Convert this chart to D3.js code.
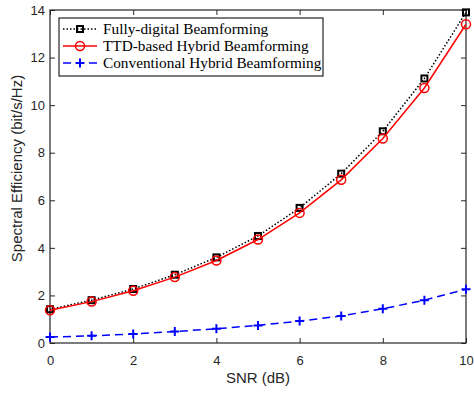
<!DOCTYPE html>
<html>
<head>
<meta charset="utf-8">
<script src="https://cdn.jsdelivr.net/npm/d3@7"></script>
<style>
  body { margin: 0; background: #fff; }
  .tick text { font-family: "Liberation Sans", Arial, sans-serif; font-size: 13px; fill: #262626; }
  .label { font-family: "Liberation Sans", Arial, sans-serif; font-size: 15px; fill: #262626; }
  .legend-text { font-family: "Liberation Serif", "Times New Roman", serif; font-size: 15.3px; fill: #000; }
</style>
</head>
<body>
<div class="chart"></div>
<script>
const snr = [0, 1, 2, 3, 4, 5, 6, 7, 8, 9, 10]
const fullyDigital = [1.42, 1.8, 2.27, 2.87, 3.6, 4.5, 5.68, 7.12, 8.9, 11.12, 13.9]
const ttdHybrid = [1.38, 1.74, 2.2, 2.77, 3.47, 4.35, 5.47, 6.86, 8.6, 10.72, 13.4]
const convHybrid = [0.25, 0.3, 0.38, 0.48, 0.6, 0.74, 0.92, 1.14, 1.44, 1.8, 2.26]
const seriesNames = ["Fully-digital Beamforming", "TTD-based Hybrid Beamforming", "Conventional Hybrid Beamforming"]
const xTicks = [0, 2, 4, 6, 8, 10]
const yTicks = [0, 2, 4, 6, 8, 10, 12, 14]

function drawChart() {
    const w = 474, h = 393;
    const padding = { left: 50, right: 8, top: 10, bottom: 50 };
    const chartWidth = w - padding.left - padding.right;
    const chartHeight = h - padding.top - padding.bottom;

    var svg = d3.select('.chart')
        .append("svg")
        .attr("width", w)
        .attr("height", h)
        .append("g")
        .attr("transform", "translate(" + padding.left + "," + padding.top + ")");

    var xScale = d3.scaleLinear().domain([0, 10]).range([0, chartWidth]);
    var yScale = d3.scaleLinear().domain([0, 14]).range([chartHeight, 0]);

    const axisColor = "#262626";
    function styleAxis(g) {
        g.select(".domain").remove();
        g.selectAll(".tick line").attr("stroke", axisColor);
    }

    // bottom / left with labels, top / right ticks only
    svg.append("g")
        .attr("transform", `translate(0, ${chartHeight})`)
        .call(d3.axisBottom(xScale).tickValues(xTicks).tickSizeInner(-5).tickSizeOuter(0).tickPadding(13))
        .call(styleAxis);
    svg.append("g")
        .call(d3.axisTop(xScale).tickValues(xTicks).tickSizeInner(-5).tickSizeOuter(0).tickFormat(""))
        .call(styleAxis);
    svg.append("g")
        .call(d3.axisLeft(yScale).tickValues(yTicks).tickSizeInner(-5).tickSizeOuter(0).tickPadding(5))
        .call(styleAxis);
    svg.append("g")
        .attr("transform", `translate(${chartWidth}, 0)`)
        .call(d3.axisRight(yScale).tickValues(yTicks).tickSizeInner(-5).tickSizeOuter(0).tickFormat(""))
        .call(styleAxis);

    svg.append("rect")
        .attr("width", chartWidth)
        .attr("height", chartHeight)
        .attr("fill", "none")
        .attr("stroke", axisColor)
        .attr("stroke-width", 1.2);

    const series = [
        { name: seriesNames[0], values: fullyDigital, color: "#000", dash: "1.5,2", marker: "square" },
        { name: seriesNames[1], values: ttdHybrid, color: "#ff0000", dash: null, marker: "circle" },
        { name: seriesNames[2], values: convHybrid, color: "#0000ff", dash: "8,5", marker: "plus" }
    ];

    const line = d3.line()
        .x(d => xScale(d[0]))
        .y(d => yScale(d[1]));

    function drawMarker(g, type, color) {
        if (type === "square") {
            g.append("rect").attr("x", -3).attr("y", -3).attr("width", 6).attr("height", 6)
                .attr("fill", "none").attr("stroke", color).attr("stroke-width", 2);
        } else if (type === "circle") {
            g.append("circle").attr("r", 4.5)
                .attr("fill", "none").attr("stroke", color).attr("stroke-width", 1.5);
        } else {
            g.append("path").attr("d", "M-4.5,0H4.5M0,-4.5V4.5")
                .attr("stroke", color).attr("stroke-width", 2);
        }
    }

    series.forEach(s => {
        const pts = snr.map((x, i) => [x, s.values[i]]);
        svg.append("path")
            .datum(pts)
            .attr("d", line)
            .attr("fill", "none")
            .attr("stroke", s.color)
            .attr("stroke-width", 1.5)
            .attr("stroke-dasharray", s.dash);
        pts.forEach(p => {
            const g = svg.append("g").attr("transform", `translate(${xScale(p[0])},${yScale(p[1])})`);
            drawMarker(g, s.marker, s.color);
        });
    });

    // legend
    var legend = svg.append("g").attr("transform", "translate(9, 8)");
    legend.append("rect")
        .attr("width", 264)
        .attr("height", 58)
        .attr("fill", "#fff")
        .attr("stroke", axisColor)
        .attr("stroke-width", 1.2);

    series.forEach((s, i) => {
        const y = 11 + i * 17;
        legend.append("line")
            .attr("x1", 4).attr("x2", 38).attr("y1", y).attr("y2", y)
            .attr("stroke", s.color).attr("stroke-width", 1.5)
            .attr("stroke-dasharray", s.dash);
        const g = legend.append("g").attr("transform", `translate(21,${y})`);
        drawMarker(g, s.marker, s.color);
        legend.append("text")
            .attr("class", "legend-text")
            .attr("x", 44)
            .attr("y", y + 5)
            .text(s.name);
    });

    svg.append("text")
        .attr("class", "label")
        .attr("x", chartWidth / 2)
        .attr("y", chartHeight + 40)
        .attr("text-anchor", "middle")
        .text("SNR (dB)");

    svg.append("text")
        .attr("class", "label")
        .attr("transform", "rotate(-90)")
        .attr("x", -chartHeight / 2 + 8)
        .attr("y", -28)
        .attr("text-anchor", "middle")
        .text("Spectral Efficiency (bit/s/Hz)");
}

drawChart();
</script>
</body>
</html>
